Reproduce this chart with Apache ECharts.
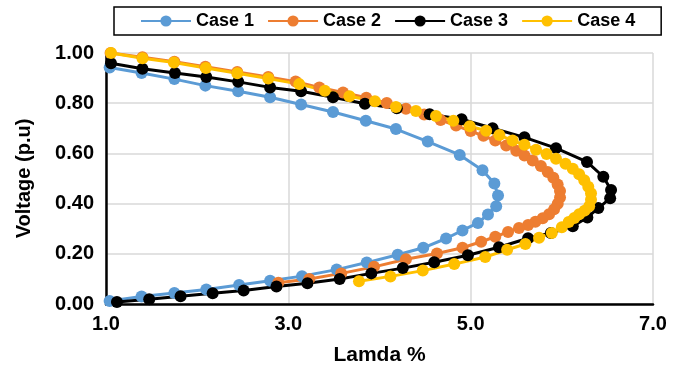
<!DOCTYPE html>
<html>
<head>
<meta charset="utf-8">
<script src="https://cdn.jsdelivr.net/npm/echarts@6/dist/echarts.min.js"></script>
<style>
  html, body { margin: 0; padding: 0; background: #fff; }
  #main { width: 678px; height: 371px; }
</style>
</head>
<body>
<div id="main"></div>
<script>
// Case 1
var case1Lambda = [1.04, 1.39, 1.75, 2.09, 2.45, 2.80, 3.14, 3.49, 3.85, 4.18, 4.53, 4.88, 5.13, 5.26, 5.30, 5.28, 5.19, 5.08, 4.91, 4.73, 4.48, 4.20, 3.86, 3.53, 3.15, 2.80, 2.46, 2.10, 1.75, 1.39, 1.04]
var case1Voltage = [0.942, 0.920, 0.896, 0.870, 0.848, 0.824, 0.795, 0.765, 0.730, 0.697, 0.647, 0.594, 0.533, 0.480, 0.432, 0.389, 0.357, 0.323, 0.293, 0.261, 0.224, 0.196, 0.165, 0.137, 0.111, 0.093, 0.076, 0.058, 0.044, 0.030, 0.012]
// Case 2
var case2Lambda = [1.05, 1.40, 1.75, 2.09, 2.44, 2.78, 3.08, 3.34, 3.60, 3.855, 4.08, 4.29, 4.49, 4.67, 4.84, 5.00, 5.14, 5.27, 5.39, 5.50, 5.59, 5.68, 5.77, 5.845, 5.907, 5.954, 5.98, 5.98, 5.955, 5.915, 5.86, 5.79, 5.71, 5.63, 5.53, 5.41, 5.27, 5.115, 4.91, 4.63, 4.29, 3.94, 3.58, 3.23, 2.89]
var case2Voltage = [1.0, 0.983, 0.965, 0.945, 0.924, 0.904, 0.886, 0.863, 0.843, 0.822, 0.801, 0.778, 0.755, 0.733, 0.711, 0.689, 0.670, 0.651, 0.631, 0.611, 0.592, 0.572, 0.550, 0.526, 0.503, 0.476, 0.450, 0.424, 0.399, 0.377, 0.358, 0.342, 0.328, 0.315, 0.303, 0.287, 0.268, 0.248, 0.224, 0.201, 0.178, 0.148, 0.122, 0.100, 0.085]
// Case 3
var case3Lambda = [1.055, 1.40, 1.756, 2.10, 2.45, 2.80, 3.14, 3.49, 3.84, 4.19, 4.55, 4.90, 5.24, 5.59, 5.936, 6.276, 6.455, 6.54, 6.53, 6.40, 6.28, 6.12, 5.88, 5.63, 5.31, 4.97, 4.60, 4.256, 3.91, 3.563, 3.21, 2.87, 2.51, 2.17, 1.818, 1.474, 1.12]
var case3Voltage = [0.959, 0.937, 0.920, 0.904, 0.885, 0.863, 0.848, 0.824, 0.798, 0.780, 0.756, 0.736, 0.700, 0.664, 0.621, 0.566, 0.507, 0.454, 0.421, 0.382, 0.345, 0.310, 0.283, 0.262, 0.226, 0.194, 0.166, 0.143, 0.122, 0.100, 0.083, 0.070, 0.054, 0.043, 0.031, 0.019, 0.008]
// Case 4
var case4Lambda = [1.055, 1.40, 1.745, 2.095, 2.44, 2.78, 3.12, 3.40, 3.67, 3.95, 4.18, 4.40, 4.62, 4.81, 4.99, 5.17, 5.315, 5.46, 5.59, 5.717, 5.833, 5.936, 6.04, 6.12, 6.19, 6.246, 6.29, 6.32, 6.32, 6.30, 6.25, 6.19, 6.137, 6.075, 6.00, 5.89, 5.75, 5.60, 5.40, 5.16, 4.82, 4.475, 4.12, 3.775]
var case4Voltage = [1.0, 0.979, 0.962, 0.940, 0.919, 0.898, 0.876, 0.850, 0.828, 0.808, 0.785, 0.769, 0.749, 0.730, 0.708, 0.690, 0.673, 0.651, 0.634, 0.615, 0.598, 0.579, 0.559, 0.539, 0.517, 0.493, 0.467, 0.441, 0.415, 0.389, 0.372, 0.358, 0.343, 0.327, 0.306, 0.283, 0.264, 0.239, 0.216, 0.187, 0.159, 0.133, 0.110, 0.091]

var caseNames = ['Case 1', 'Case 2', 'Case 3', 'Case 4']
var caseColors = ['#5B9BD5', '#ED7D31', '#000000', '#FFC000']

function pairs(xs, ys) {
  return xs.map(function (x, i) { return [x, ys[i]] })
}

var allData = [
  pairs(case1Lambda, case1Voltage),
  pairs(case2Lambda, case2Voltage),
  pairs(case3Lambda, case3Voltage),
  pairs(case4Lambda, case4Voltage)
]

var font = 'Liberation Sans, Arial, sans-serif'

var myChart = echarts.init(document.getElementById('main'), null, { renderer: 'canvas' })
myChart.setOption({
  animation: false,
  textStyle: { fontFamily: font },
  legend: {
    left: 114,
    top: 7,
    padding: [5, 26, 5, 26],
    itemGap: 13,
    itemWidth: 50,
    itemHeight: 14,
    borderColor: '#000',
    borderWidth: 1.5,
    textStyle: { fontFamily: font, fontSize: 18, fontWeight: 'bold', color: '#000' },
    data: caseNames
  },
  grid: {
    left: 106,
    right: 25,
    top: 53,
    bottom: 64
  },
  xAxis: {
    type: 'value',
    min: 1,
    max: 7,
    interval: 2,
    name: 'Lamda %',
    nameLocation: 'middle',
    nameGap: 41,
    nameTextStyle: { fontFamily: font, fontSize: 21, fontWeight: 'bold', color: '#000' },
    axisLine: { show: true, lineStyle: { color: '#000', width: 2.5 } },
    axisTick: { show: false },
    axisLabel: {
      margin: 10,
      fontFamily: font, fontSize: 20, fontWeight: 'bold', color: '#000',
      formatter: function (v) { return v.toFixed(1) }
    },
    splitLine: { show: true, lineStyle: { color: '#D9D9D9', width: 1.5 } }
  },
  yAxis: {
    type: 'value',
    min: 0,
    max: 1,
    interval: 0.2,
    name: 'Voltage (p.u)',
    nameLocation: 'middle',
    nameGap: 72,
    nameTextStyle: { fontFamily: font, fontSize: 20, fontWeight: 'bold', color: '#000' },
    axisLine: { show: true, lineStyle: { color: '#000', width: 2.5 } },
    axisTick: { show: false },
    axisLabel: {
      margin: 12,
      fontFamily: font, fontSize: 20, fontWeight: 'bold', color: '#000',
      formatter: function (v) { return v.toFixed(2) }
    },
    splitLine: { show: true, lineStyle: { color: '#D9D9D9', width: 1.5 } }
  },
  series: allData.map(function (d, i) {
    return {
      name: caseNames[i],
      type: 'line',
      data: d,
      symbol: 'circle',
      symbolSize: 12,
      showAllSymbol: true,
      color: caseColors[i],
      lineStyle: { width: 3, color: caseColors[i] },
      itemStyle: { color: caseColors[i] }
    }
  })
})
</script>
</body>
</html>
